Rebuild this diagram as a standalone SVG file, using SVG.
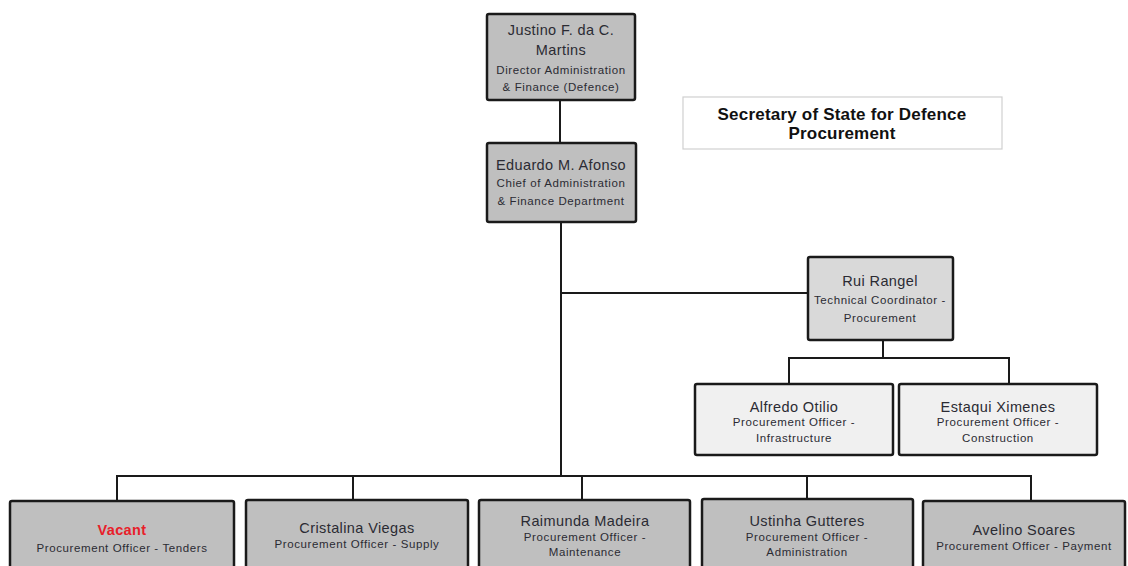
<svg xmlns="http://www.w3.org/2000/svg" width="1128" height="566" viewBox="0 0 1128 566">
<style>
.box{stroke:#1a1a1a;stroke-width:2.5}
.dark{fill:#bfbfbf}
.mid{fill:#d9d9d9}
.light{fill:#f0f0f0}
.nm{font-family:"Liberation Sans",Arial,sans-serif;font-size:14.5px;letter-spacing:0.4px;fill:#2b2b33;text-anchor:middle}
.sub{font-family:"Liberation Sans",Arial,sans-serif;font-size:11.5px;letter-spacing:0.6px;fill:#2b2b33;text-anchor:middle}
.conn{stroke:#1a1a1a;stroke-width:2;fill:none}
.title{font-family:"Liberation Sans",Arial,sans-serif;font-size:17px;font-weight:bold;letter-spacing:0.2px;fill:#111;text-anchor:middle}
</style>
<rect width="1128" height="566" fill="#ffffff"/>
<g id="connectors">
<path class="conn" d="M560 100V143"/>
<path class="conn" d="M561 222V477"/>
<path class="conn" d="M561 293H808"/>
<path class="conn" d="M883 340V358M789 384V358H1009V384"/>
<path class="conn" d="M117 500V476H1031V500M353 476V500M582 476V500M807 476V500"/>
</g>
<g id="title">
<rect x="683" y="97" width="319" height="52" fill="#ffffff" stroke="#d0d0d0" stroke-width="1.2"/>
<text class="title" x="842" y="120">Secretary of State for Defence</text>
<text class="title" x="842" y="139">Procurement</text>
</g>
<g id="justino">
<rect class="box dark" x="487" y="14" width="148" height="86" rx="2"/>
<text class="nm" x="561" y="35">Justino F. da C.</text>
<text class="nm" x="561" y="55">Martins</text>
<text class="sub" x="561" y="74">Director Administration</text>
<text class="sub" x="561" y="91">&amp; Finance (Defence)</text>
</g>
<g id="eduardo">
<rect class="box dark" x="487" y="143" width="149" height="79" rx="2"/>
<text class="nm" x="561" y="170">Eduardo M. Afonso</text>
<text class="sub" x="561" y="187">Chief of Administration</text>
<text class="sub" x="561" y="205">&amp; Finance Department</text>
</g>
<g id="rui">
<rect class="box mid" x="808" y="257" width="145" height="83" rx="2"/>
<text class="nm" x="880" y="286">Rui Rangel</text>
<text class="sub" x="880" y="304">Technical Coordinator -</text>
<text class="sub" x="880" y="322">Procurement</text>
</g>
<g id="alfredo">
<rect class="box light" x="695" y="384" width="198" height="71" rx="2"/>
<text class="nm" x="794" y="412">Alfredo  Otilio</text>
<text class="sub" x="794" y="426">Procurement Officer -</text>
<text class="sub" x="794" y="442">Infrastructure</text>
</g>
<g id="estaqui">
<rect class="box light" x="899" y="384" width="198" height="71" rx="2"/>
<text class="nm" x="998" y="412">Estaqui Ximenes</text>
<text class="sub" x="998" y="426">Procurement Officer -</text>
<text class="sub" x="998" y="442">Construction</text>
</g>
<g id="vacant">
<rect class="box dark" x="10" y="501" width="224" height="80" rx="2"/>
<text class="nm" x="122" y="535" style="fill:#e8202a;font-weight:bold">Vacant</text>
<text class="sub" x="122" y="552">Procurement Officer - Tenders</text>
</g>
<g id="cristalina">
<rect class="box dark" x="246" y="500" width="222" height="80" rx="2"/>
<text class="nm" x="357" y="533">Cristalina Viegas</text>
<text class="sub" x="357" y="548">Procurement Officer - Supply</text>
</g>
<g id="raimunda">
<rect class="box dark" x="479" y="500" width="211" height="80" rx="2"/>
<text class="nm" x="585" y="526">Raimunda  Madeira</text>
<text class="sub" x="585" y="541">Procurement Officer -</text>
<text class="sub" x="585" y="556">Maintenance</text>
</g>
<g id="ustinha">
<rect class="box dark" x="702" y="499" width="211" height="80" rx="2"/>
<text class="nm" x="807" y="526">Ustinha  Gutteres</text>
<text class="sub" x="807" y="541">Procurement Officer -</text>
<text class="sub" x="807" y="556">Administration</text>
</g>
<g id="avelino">
<rect class="box dark" x="923" y="501" width="202" height="80" rx="2"/>
<text class="nm" x="1024" y="535">Avelino  Soares</text>
<text class="sub" x="1024" y="550">Procurement Officer - Payment</text>
</g>
</svg>
